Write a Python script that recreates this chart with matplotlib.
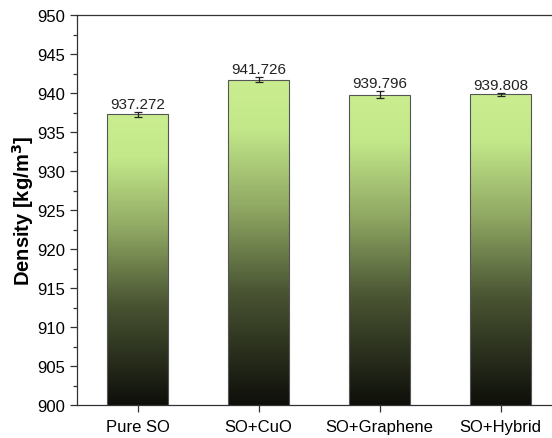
import numpy as np
import matplotlib
matplotlib.use('Agg')
import matplotlib.pyplot as plt
from matplotlib.colors import LinearSegmentedColormap

plt.rcParams['font.family'] = ['Liberation Sans', 'DejaVu Sans']

# data
samples = ['Pure SO', 'SO+CuO', 'SO+Graphene', 'SO+Hybrid']
density = [937.272, 941.726, 939.796, 939.808]
err = [0.35, 0.3, 0.45, 0.2]

fig = plt.figure(figsize=(5.52, 4.39), dpi=100)
ax = fig.add_axes([77 / 552, 33 / 439, 484 / 552, 390 / 439])

ymin, ymax = 900, 950
cmap = LinearSegmentedColormap.from_list(
    'grn', [(0.0, '#0e0f0a'), (0.35, '#4a5533'), (0.6, '#8ea662'), (0.85, '#c3e88a'), (1.0, '#caee8f')])
grad = np.linspace(0, 1, 256).reshape(-1, 1)

x = np.arange(len(samples))
width = 0.5
bars = ax.bar(x, density, width, bottom=0, color='none', edgecolor='#555555', linewidth=0.8, zorder=3)
for b, v in zip(bars, density):
    x0 = b.get_x()
    im = ax.imshow(grad, extent=[x0, x0 + width, ymin, v], origin='lower', cmap=cmap,
                   aspect='auto', zorder=2)
    im.set_clip_path(b)

ax.errorbar(x, density, yerr=err, fmt='none', ecolor='#222222', elinewidth=0.9, capsize=3, capthick=0.9, zorder=4)

for xi, v, e in zip(x, density, err):
    ax.text(xi, v + e + 0.1, f'{v:.3f}', ha='center', va='bottom', fontsize=11, color='#222222')

ax.set_xlim(-0.5, 3.5)
ax.set_ylim(ymin, ymax)
ax.set_xticks(x)
ax.set_xticklabels(samples, fontsize=12)
ax.set_yticks(np.arange(900, 951, 5))
ax.set_yticks(np.arange(900, 951, 2.5), minor=True)
ax.tick_params(axis='both', direction='out', labelsize=12, length=5, width=0.9, color='#333333')
ax.tick_params(axis='y', which='minor', length=3, width=0.9, color='#333333')
ax.tick_params(axis='x', pad=5)
ax.set_ylabel('Density [kg/m$^\\mathbf{3}$]', fontsize=14.5, fontweight='bold', labelpad=1)
for s in ax.spines.values():
    s.set_linewidth(0.9)
    s.set_color('#333333')

fig.savefig('out.png', dpi=100)
